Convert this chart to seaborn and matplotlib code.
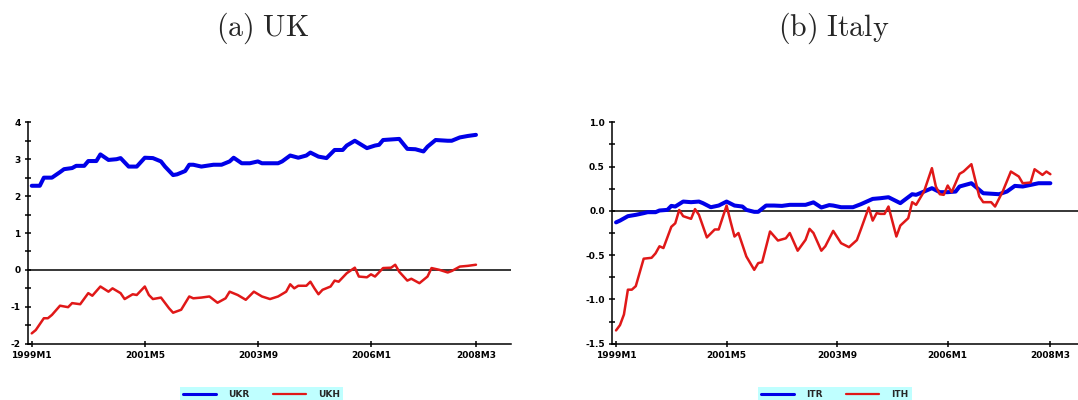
import matplotlib
matplotlib.use("Agg")
import matplotlib.pyplot as plt
import seaborn as sns
from matplotlib.ticker import MultipleLocator, FuncFormatter
from matplotlib.lines import Line2D

# ---------------- data (month index: 0 = 1999M1) ----------------
tick_months = [0, 28, 56, 84, 110]
tick_labels = ["1999M1", "2001M5", "2003M9", "2006M1", "2008M3"]

ukr_month = [0, 2, 3, 5, 7, 8, 10, 11, 13, 14, 16, 17, 19, 21, 22, 24, 26, 28, 30, 32,
             33, 35, 36, 38, 39, 40, 42, 45, 47, 49, 50, 52, 54, 56, 57, 61, 62, 64, 66, 68,
             69, 71, 73, 75, 77, 78, 80, 83, 85, 86, 87, 91, 93, 95, 97, 98, 100, 103, 104, 106,
             108, 110]
ukr_value = [2.28, 2.28, 2.50, 2.50, 2.65, 2.73, 2.76, 2.82, 2.82, 2.95, 2.95, 3.13, 2.98, 3.00, 3.03, 2.80, 2.80, 3.04, 3.03, 2.94,
             2.80, 2.57, 2.59, 2.68, 2.85, 2.85, 2.80, 2.85, 2.85, 2.94, 3.04, 2.89, 2.89, 2.94, 2.89, 2.89, 2.94, 3.10, 3.04, 3.10,
             3.18, 3.07, 3.03, 3.25, 3.25, 3.37, 3.50, 3.30, 3.37, 3.39, 3.52, 3.55, 3.28, 3.27, 3.21, 3.34, 3.52, 3.50, 3.50, 3.59,
             3.63, 3.66]

ukh_month = [0, 1, 3, 4, 5, 7, 9, 10, 12, 14, 15, 17, 19, 20, 22, 23, 25, 26, 28, 29,
             30, 32, 34, 35, 37, 39, 40, 42, 44, 46, 48, 49, 51, 53, 55, 57, 59, 61, 63, 64,
             65, 66, 68, 69, 70, 71, 72, 74, 75, 76, 78, 80, 81, 83, 84, 85, 87, 89, 90, 91,
             93, 94, 96, 98, 99, 101, 103, 104, 106, 108, 110]
ukh_value = [-1.72, -1.63, -1.31, -1.31, -1.22, -0.97, -1.01, -0.90, -0.93, -0.63, -0.70, -0.45, -0.59, -0.50, -0.63, -0.79, -0.66, -0.68, -0.45, -0.68,
             -0.79, -0.75, -1.04, -1.16, -1.08, -0.72, -0.77, -0.75, -0.72, -0.89, -0.77, -0.59, -0.68, -0.81, -0.59, -0.72, -0.79, -0.72, -0.59, -0.39,
             -0.50, -0.43, -0.43, -0.32, -0.50, -0.66, -0.54, -0.45, -0.29, -0.32, -0.09, 0.06, -0.18, -0.20, -0.12, -0.18, 0.05, 0.06, 0.14, -0.05,
             -0.29, -0.24, -0.36, -0.18, 0.05, 0.00, -0.07, -0.03, 0.09, 0.11, 0.14]

itr_month = [0, 1, 3, 5, 7, 8, 10, 11, 13, 14, 15, 17, 19, 21, 22, 24, 26, 28, 30, 32,
             33, 35, 36, 38, 40, 42, 44, 48, 50, 52, 54, 55, 57, 60, 62, 65, 67, 69, 72, 75,
             76, 78, 80, 82, 84, 86, 87, 90, 92, 93, 97, 99, 101, 103, 105, 107, 110]
itr_value = [-0.13, -0.11, -0.06, -0.045, -0.026, -0.015, -0.015, 0.004, 0.011, 0.056, 0.049, 0.105, 0.098, 0.105, 0.087, 0.041, 0.06, 0.105, 0.06, 0.049,
             0.011, -0.011, -0.011, 0.06, 0.06, 0.056, 0.068, 0.068, 0.096, 0.038, 0.065, 0.06, 0.041, 0.041, 0.075, 0.135, 0.143, 0.154, 0.087, 0.188,
             0.181, 0.218, 0.256, 0.211, 0.211, 0.218, 0.275, 0.312, 0.237, 0.199, 0.188, 0.218, 0.282, 0.275, 0.293, 0.312, 0.312]

ith_month = [0, 1, 2, 3, 4, 5, 7, 9, 10, 11, 12, 14, 15, 16, 17, 19, 20, 21, 23, 25,
             26, 28, 29, 30, 31, 33, 35, 36, 37, 39, 41, 43, 44, 46, 48, 49, 50, 52, 53, 55,
             57, 59, 61, 62, 64, 65, 66, 67, 68, 69, 71, 72, 74, 75, 76, 78, 80, 81, 82, 83,
             84, 85, 87, 88, 90, 92, 93, 95, 96, 98, 100, 102, 103, 105, 106, 108, 109, 110]
ith_value = [-1.35, -1.29, -1.17, -0.89, -0.89, -0.85, -0.54, -0.53, -0.48, -0.40, -0.42, -0.18, -0.14, 0.01, -0.06, -0.09, 0.02, -0.045, -0.30, -0.21,
             -0.21, 0.06, -0.12, -0.29, -0.25, -0.515, -0.666, -0.59, -0.58, -0.233, -0.335, -0.31, -0.25, -0.45, -0.327, -0.203, -0.25, -0.45, -0.40, -0.226,
             -0.365, -0.41, -0.33, -0.21, 0.038, -0.11, -0.026, -0.034, -0.034, 0.049, -0.29, -0.166, -0.083, 0.098, 0.068, 0.218, 0.482, 0.275, 0.188, 0.181,
             0.286, 0.211, 0.418, 0.444, 0.527, 0.162, 0.098, 0.098, 0.049, 0.226, 0.444, 0.388, 0.312, 0.32, 0.47, 0.406, 0.444, 0.414]

titles = ["(a) UK", "(b) Italy"]
legend_uk = ["UKR", "UKH"]
legend_it = ["ITR", "ITH"]

# ---------------- style ----------------
sns.set_style("ticks")
plt.rcParams["font.family"] = ["DejaVu Sans"]
plt.rcParams["font.weight"] = "bold"
plt.rcParams["mathtext.fontset"] = "cm"

BLUE = "#0000E8"
RED = "#E01818"
W, H = 1078, 400

fig = plt.figure(figsize=(W / 100, H / 100), dpi=100)
ax1 = fig.add_axes([27.7 / W, 56.3 / H, (510.7 - 27.7) / W, (343.7 - 122.3) / H])
ax2 = fig.add_axes([611.7 / W, 56.3 / H, (W - 611.7) / W, (343.7 - 122.3) / H])


def style_axis(ax, ylim, major, minor, fmt, xlim):
    ax.axhline(0, color="black", lw=1.1, zorder=1)
    ax.set_xlim(*xlim)
    ax.set_ylim(*ylim)
    ax.yaxis.set_major_locator(MultipleLocator(major))
    ax.yaxis.set_minor_locator(MultipleLocator(minor))
    ax.yaxis.set_major_formatter(FuncFormatter(lambda v, p: fmt.format(0.0 if abs(v) < 1e-9 else v)))
    ax.set_xticks(tick_months)
    ax.set_xticklabels(tick_labels)
    for s in ["top", "right"]:
        ax.spines[s].set_visible(False)
    for s in ["left", "bottom"]:
        ax.spines[s].set_color("black")
        ax.spines[s].set_linewidth(1.1)
    ax.tick_params(axis="y", which="both", direction="inout", length=5, width=1.1,
                   pad=2.5, labelsize=6.5, colors="black")
    ax.tick_params(axis="x", which="both", direction="inout", length=5, width=1.1,
                   pad=3.0, labelsize=6.5, colors="black")
    ax.set_xlabel("")
    ax.set_ylabel("")
    ax.grid(False)


sns.lineplot(x=ukr_month, y=ukr_value, ax=ax1, color=BLUE, linewidth=2.9, legend=False, zorder=2)
sns.lineplot(x=ukh_month, y=ukh_value, ax=ax1, color=RED, linewidth=1.8, legend=False, zorder=3)
sns.lineplot(x=itr_month, y=itr_value, ax=ax2, color=BLUE, linewidth=2.9, legend=False, zorder=2)
sns.lineplot(x=ith_month, y=ith_value, ax=ax2, color=RED, linewidth=1.8, legend=False, zorder=3)

style_axis(ax1, (-2, 4), 1, 0.5, "{:.0f}", (-1.0, 118.6))
style_axis(ax2, (-1.5, 1.0), 0.5, 0.25, "{:.1f}", (-1.1, 117.0))

# titles
fig.text(263 / W, 1 - 28 / H, r"$\mathrm{" + titles[0].replace(" ", r"\ ") + "}$",
         ha="center", va="center", fontsize=21.5)
fig.text(834 / W, 1 - 28 / H, r"$\mathrm{" + titles[1].replace(" ", r"\ ") + "}$",
         ha="center", va="center", fontsize=21.5)

# legends
handles = [Line2D([], [], color=BLUE, lw=2.2), Line2D([], [], color=RED, lw=1.6)]
for labels, x0 in [(legend_uk, 180), (legend_it, 758)]:
    leg = fig.legend(handles, labels, loc="upper left", bbox_to_anchor=(x0 / W, 1 - 387 / H),
                     ncol=2, fontsize=6.5, frameon=True, facecolor="#BFFFFF", edgecolor="none",
                     fancybox=False, framealpha=1, borderpad=0.35, handlelength=3.6,
                     handletextpad=1.4, columnspacing=2.6, borderaxespad=0)

fig.savefig("out.png", dpi=100)
